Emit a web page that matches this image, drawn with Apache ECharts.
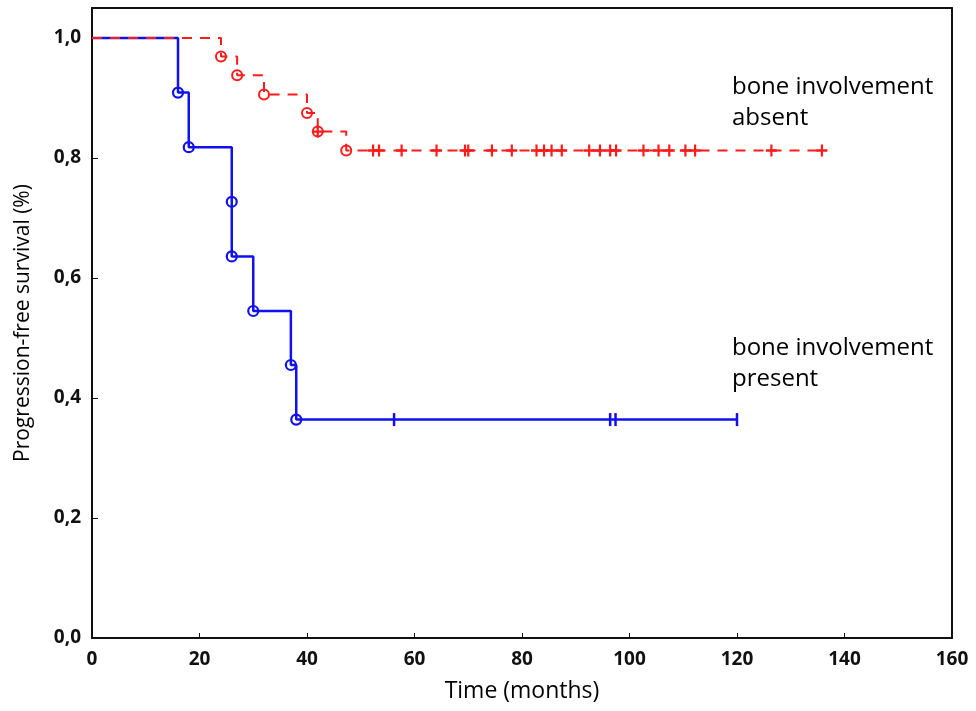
<!DOCTYPE html>
<html>
<head>
<meta charset="utf-8">
<script src="https://cdn.jsdelivr.net/npm/echarts@6/dist/echarts.min.js"></script>
<style>
    html, body { margin: 0; padding: 0; background: #fff; }
    #chart { width: 976px; height: 711px; }
</style>
</head>
<body>
<div id="chart"></div>
<script>
// bone involvement present (blue, solid)
const presentTimes = [0, 16, 18, 26, 26, 30, 37, 38, 120];
const presentSurv  = [1.0, 0.909, 0.818, 0.727, 0.636, 0.545, 0.455, 0.364, 0.364];
const presentEvents = [16, 18, 26, 26, 30, 37, 38];
const presentEventSurv = [0.909, 0.818, 0.727, 0.636, 0.545, 0.455, 0.364];
const presentCensored = [56.2, 96.4, 97.4, 120];

// bone involvement absent (red, dashed)
const absentTimes = [0, 24, 27, 32, 40, 42, 47.3, 135.8];
const absentSurv  = [1.0, 0.969, 0.938, 0.906, 0.875, 0.844, 0.8125, 0.8125];
const absentEvents = [24, 27, 32, 40, 42, 47.3];
const absentEventSurv = [0.969, 0.938, 0.906, 0.875, 0.844, 0.8125];
const absentCensored = [42, 52.3, 53.4, 57.6, 64.1, 69.4, 70.0, 74.4, 78.1, 82.7, 84.1, 85.5, 87.4,
                        92.5, 94.5, 96.4, 97.5, 102.6, 105.4, 107.4, 110.4, 112.2, 126.4, 135.8];

const xTicks = [0, 20, 40, 60, 80, 100, 120, 140, 160];
const yTicks = [0, 0.2, 0.4, 0.6, 0.8, 1.0];

const BLUE = '#1010f0';
const RED = '#ff1a1a';
const FONT = '"Open Sans", "DejaVu Sans", sans-serif';

function pairs(xs, ys) {
    return xs.map((x, i) => [x, ys[i]]);
}
function survAt(times, surv, t) {
    let s = surv[0];
    for (let i = 0; i < times.length; i++) {
        if (times[i] <= t) s = surv[i];
    }
    return s;
}

const plusPath = 'path://M4,0H6V4H10V6H6V10H4V6H0V4H4Z';
const barPath = 'path://M0,0H2V10H0Z';

const chart = echarts.init(document.getElementById('chart'));
chart.setOption({
    animation: false,
    backgroundColor: '#fff',
    grid: { left: 92, right: 24, top: 8, bottom: 73 },
    xAxis: [{
        type: 'value',
        min: 0, max: 160, interval: 20,
        name: 'Time (months)',
        nameLocation: 'middle',
        nameGap: 42,
        nameTextStyle: { fontFamily: FONT, fontSize: 23, color: '#000' },
        axisLine: { show: true, onZero: false, lineStyle: { color: '#111', width: 2 } },
        axisTick: { show: true, inside: true, length: 5, lineStyle: { color: '#111' } },
        axisLabel: {
            fontFamily: FONT, fontSize: 19, fontWeight: 'bold', color: '#111', margin: 12,
            formatter: v => (xTicks.includes(v) ? String(v) : '')
        },
        splitLine: { show: false }
    }, {
        type: 'value', position: 'top', min: 0, max: 160,
        axisLine: { show: true, onZero: false, lineStyle: { color: '#111', width: 2 } },
        axisTick: { show: false }, axisLabel: { show: false }, splitLine: { show: false }
    }],
    yAxis: [{
        type: 'value',
        min: 0, max: 1.05, interval: 0.2,
        name: 'Progression-free survival (%)',
        nameLocation: 'middle',
        nameGap: 58,
        nameTextStyle: { fontFamily: FONT, fontSize: 21, color: '#000' },
        axisLine: { show: true, onZero: false, lineStyle: { color: '#111', width: 2 } },
        axisTick: { show: true, inside: true, length: 6, lineStyle: { color: '#111' } },
        axisLabel: {
            fontFamily: FONT, fontSize: 19, fontWeight: 'bold', color: '#111', margin: 11,
            formatter: v => (yTicks.some(t => Math.abs(t - v) < 1e-6) ? v.toFixed(1).replace('.', ',') : '')
        },
        splitLine: { show: false }
    }, {
        type: 'value', position: 'right', min: 0, max: 1.05,
        axisLine: { show: true, onZero: false, lineStyle: { color: '#111', width: 2 } },
        axisTick: { show: false }, axisLabel: { show: false }, splitLine: { show: false }
    }],
    graphic: [
        { type: 'text', left: 732, top: 72, style: { text: 'bone involvement\nabsent', fontFamily: FONT, fontSize: 24, lineHeight: 31, fill: '#000' } },
        { type: 'text', left: 732, top: 333, style: { text: 'bone involvement\npresent', fontFamily: FONT, fontSize: 24, lineHeight: 31, fill: '#000' } }
    ],
    series: [
        {
            name: 'present', type: 'line', step: 'end',
            data: pairs(presentTimes, presentSurv),
            showSymbol: false, z: 2,
            lineStyle: { color: BLUE, width: 2.5 }
        },
        {
            name: 'present events', type: 'scatter', z: 3,
            data: pairs(presentEvents, presentEventSurv),
            symbol: 'circle', symbolSize: 10,
            itemStyle: { color: 'rgba(255,255,255,0)', borderColor: BLUE, borderWidth: 2.2, opacity: 1 }
        },
        {
            name: 'present censored', type: 'scatter', z: 3,
            data: presentCensored.map(t => [t, survAt(presentTimes, presentSurv, t)]),
            symbol: barPath, symbolSize: [2.5, 13],
            itemStyle: { color: BLUE, opacity: 1 }
        },
        {
            name: 'absent', type: 'line', step: 'end',
            data: pairs(absentTimes, absentSurv),
            showSymbol: false, z: 4,
            lineStyle: { color: RED, width: 2, type: [10, 8] }
        },
        {
            name: 'absent events', type: 'scatter', z: 5,
            data: pairs(absentEvents, absentEventSurv),
            symbol: 'circle', symbolSize: 10,
            itemStyle: { color: 'rgba(255,255,255,0)', borderColor: RED, borderWidth: 2, opacity: 1 }
        },
        {
            name: 'absent censored', type: 'scatter', z: 6,
            data: absentCensored.map(t => [t, survAt(absentTimes, absentSurv, t)]),
            symbol: plusPath, symbolSize: [11, 12],
            itemStyle: { color: RED, opacity: 1 }
        }
    ]
});
</script>
</body>
</html>
